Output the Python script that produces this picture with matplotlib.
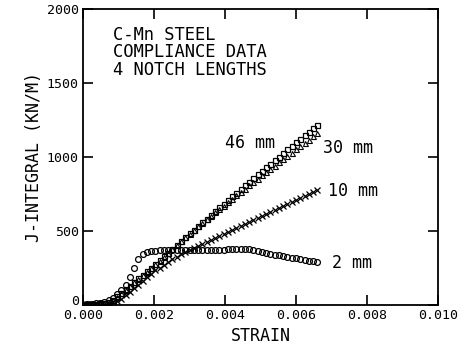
import matplotlib
matplotlib.use("Agg")
import matplotlib.pyplot as plt
from matplotlib.transforms import ScaledTranslation

plt.rcParams['font.family'] = ['DejaVu Sans Mono', 'DejaVu Sans']

strain = [0.0, 0.00012, 0.00024, 0.00036, 0.00048, 0.0006, 0.00072, 0.00084,
          0.00096, 0.00108, 0.0012, 0.00132, 0.00144, 0.00156, 0.00168, 0.0018,
          0.00192, 0.00204, 0.00216, 0.00228, 0.0024, 0.00252, 0.00264, 0.00276,
          0.00288, 0.003, 0.00312, 0.00324, 0.00336, 0.00348, 0.0036, 0.00372,
          0.00384, 0.00396, 0.00408, 0.0042, 0.00432, 0.00444, 0.00456, 0.00468,
          0.0048, 0.00492, 0.00504, 0.00516, 0.00528, 0.0054, 0.00552, 0.00564,
          0.00576, 0.00588, 0.006, 0.00612, 0.00624, 0.00636, 0.00648, 0.0066]

j_2mm = [0, 2, 5, 8, 12, 18, 28, 45, 68, 95, 130, 185, 250, 310, 338, 352,
         360, 364, 366, 368, 369, 370, 370, 370, 369, 369, 369, 368, 368, 368,
         368, 369, 370, 371, 372, 374, 376, 377, 376, 372, 366, 360, 354, 348,
         342, 337, 332, 327, 322, 317, 312, 306, 301, 296, 291, 286]

j_46mm = [0, 1, 3, 5, 8, 12, 20, 33, 57, 80, 104, 128, 152, 176, 200, 225,
          250, 274, 299, 325, 351, 377, 403, 429, 455, 481, 506, 531, 556, 581,
          606, 631, 656, 681, 706, 731, 756, 781, 806, 831, 856, 880, 904, 928,
          952, 976, 1000, 1024, 1048, 1072, 1096, 1120, 1144, 1168, 1192, 1214]

j_30mm = [0, 1, 3, 5, 8, 12, 19, 31, 54, 77, 101, 125, 149, 173, 198, 223,
          248, 272, 297, 323, 349, 375, 401, 427, 453, 478, 503, 528, 553, 576,
          599, 622, 645, 668, 691, 714, 737, 760, 783, 806, 829, 851, 873, 895,
          917, 939, 961, 983, 1005, 1027, 1049, 1071, 1093, 1115, 1137, 1158]

j_10mm = [0, 1, 2, 3, 4, 6, 9, 14, 24, 40, 62, 86, 110, 134, 158, 183,
          208, 230, 250, 270, 289, 307, 324, 339, 353, 366, 379, 392, 406, 420,
          433, 447, 460, 474, 488, 501, 515, 528, 542, 556, 569, 583, 596, 610,
          624, 637, 651, 664, 678, 692, 705, 719, 732, 746, 760, 774]

series_labels = ["46 mm", "30 mm", "10 mm", "2 mm"]
label_pos = [(0.0040, 1090), (0.00676, 1055), (0.0069, 767), (0.0070, 280)]

title_lines = "C-Mn STEEL\nCOMPLIANCE DATA\n4 NOTCH LENGTHS"

fig = plt.figure(figsize=(4.73, 3.49), dpi=100)
ax = fig.add_axes([0.1755, 0.1275, 0.7505, 0.848])

ax.plot(strain, j_2mm, linestyle='none', marker='o', ms=4.2, mfc='none',
        mec='black', mew=0.9)
ax.plot(strain, j_46mm, linestyle='none', marker='s', ms=3.6, mfc='none',
        mec='black', mew=0.9)
ax.plot(strain, j_30mm, linestyle='none', marker='^', ms=3.6, mfc='none',
        mec='black', mew=0.8)
ax.plot(strain, j_10mm, linestyle='none', marker='x', ms=4.0,
        mec='black', mew=0.9)

for txt, (x, y) in zip(series_labels, label_pos):
    ax.text(x, y, txt, fontsize=12, va='center', ha='left')

ax.text(0.00085, 1885, title_lines, fontsize=12.3, va='top', ha='left',
        linespacing=0.98)

ax.set_xlim(0, 0.010)
ax.set_ylim(0, 2000)
ax.set_xticks([0.0, 0.002, 0.004, 0.006, 0.008, 0.010])
ax.set_xticklabels(["0.000", "0.002", "0.004", "0.006", "0.008", "0.010"])
ax.set_yticks([0, 500, 1000, 1500, 2000])
ax.set_yticklabels(["0", "500", "1000", "1500", "2000"])
ax.tick_params(direction='in', length=7, width=1.2, top=True, right=True,
               labelsize=9.5, pad=3)
for s in ax.spines.values():
    s.set_linewidth(1.3)

# nudge the y "0" label slightly up so it clears the "0.000" label
ylab0 = ax.get_yticklabels()[0]
ylab0.set_transform(ylab0.get_transform() +
                    ScaledTranslation(0, 3 / 72, fig.dpi_scale_trans))

ax.set_xlabel("STRAIN", fontsize=12, labelpad=4)
ax.set_ylabel("J-INTEGRAL (KN/M)", fontsize=12, labelpad=3)

fig.savefig("out.png", dpi=100)
